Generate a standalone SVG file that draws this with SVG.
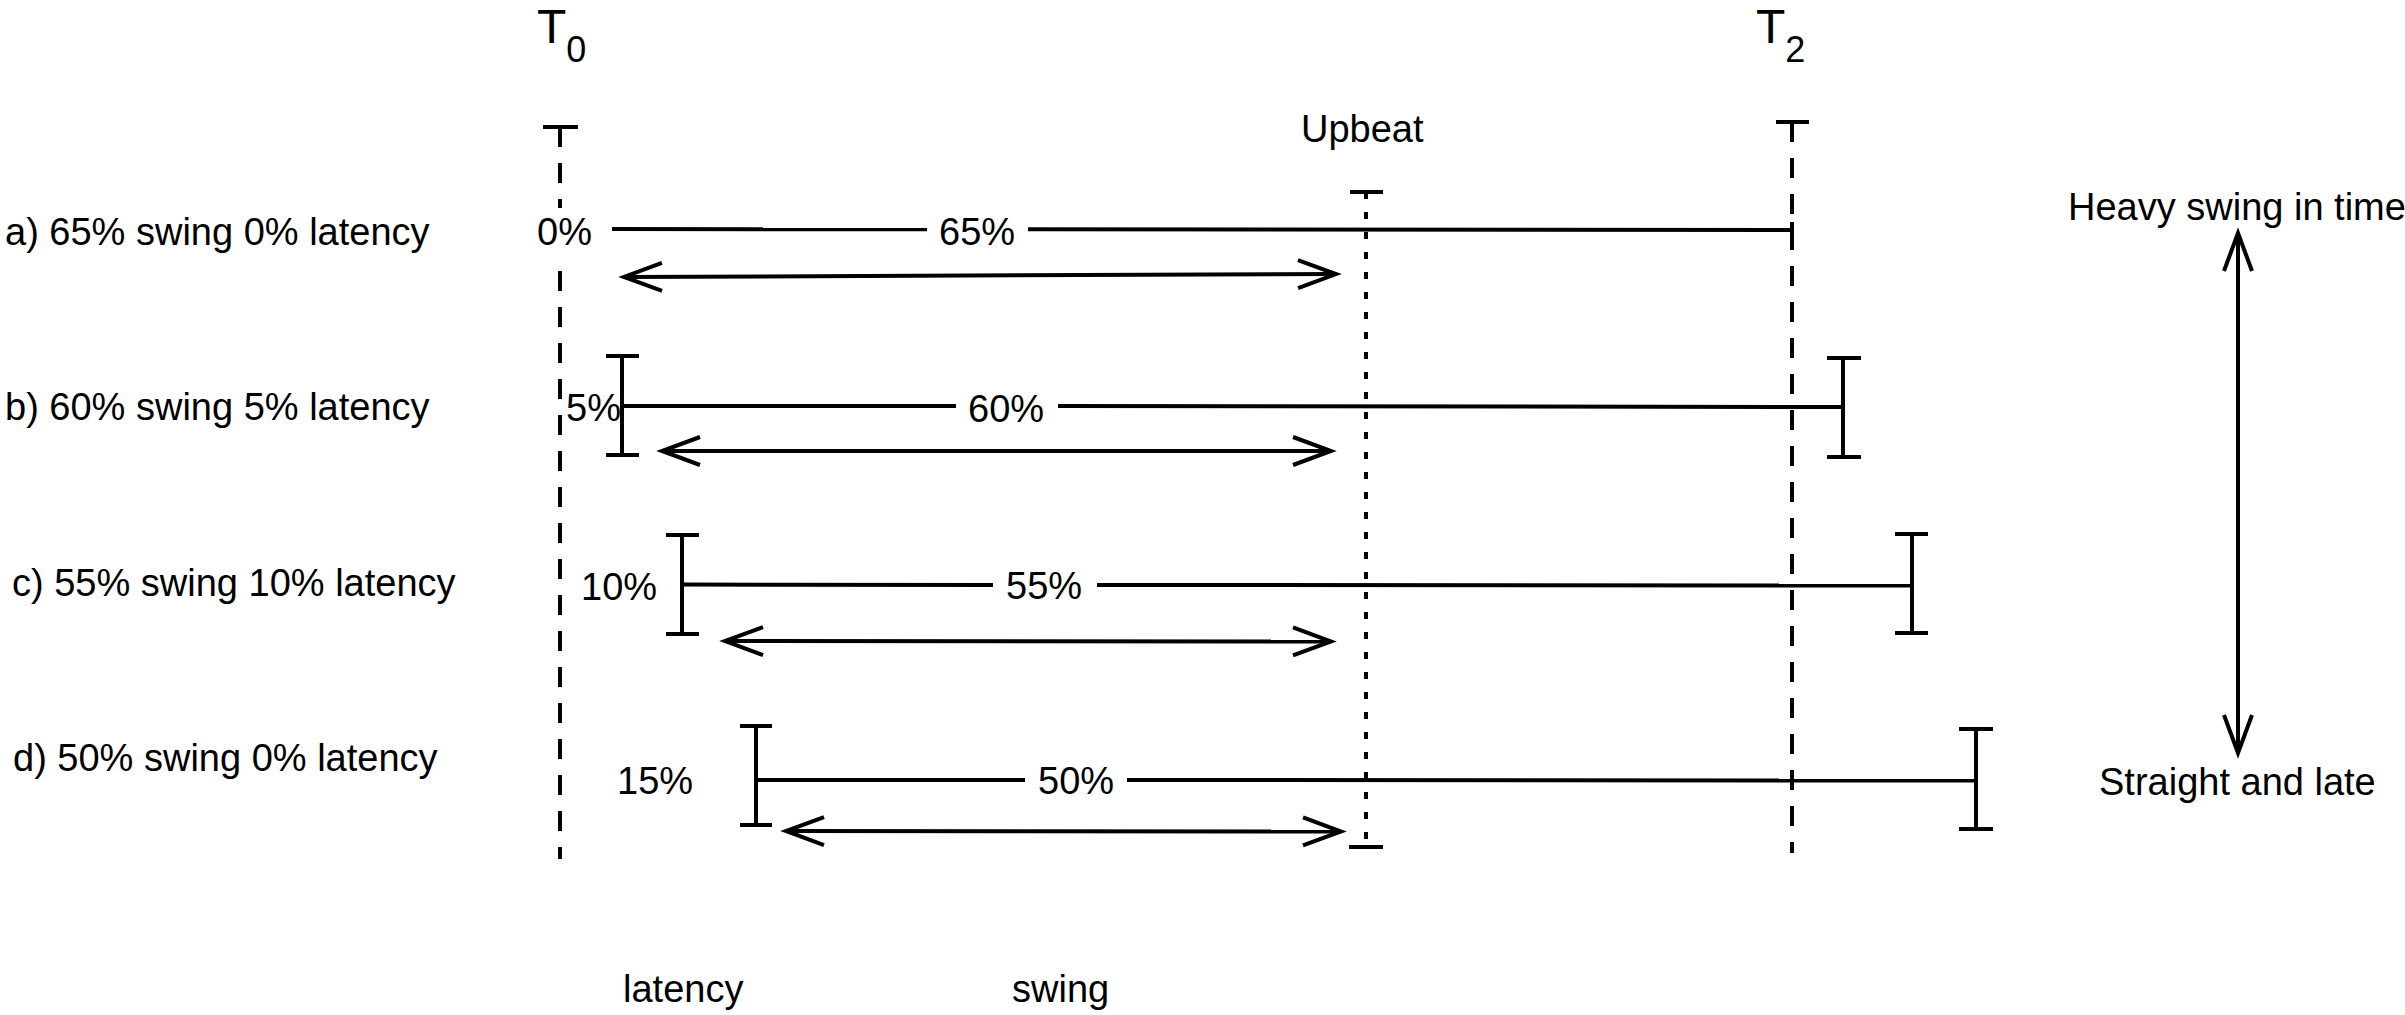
<svg xmlns="http://www.w3.org/2000/svg" width="2405" height="1015" viewBox="0 0 2405 1015">
<style>
text{font-family:"Liberation Sans",Arial,sans-serif;font-size:38px;fill:#000}
.big{font-size:48px}
.sub{font-size:36px}
.ln{stroke:#000;stroke-width:4;fill:none}
.dash{stroke:#000;stroke-width:4;fill:none;stroke-dasharray:20 16}
.dot{stroke:#000;stroke-width:4;fill:none;stroke-dasharray:7 13}
.arr{stroke:#000;stroke-width:4;fill:none;marker-start:url(#ah);marker-end:url(#ah)}
</style>
<defs>
<marker id="ah" markerUnits="userSpaceOnUse" viewBox="-44 -20 50 40" markerWidth="50" markerHeight="40" refX="0" refY="0" orient="auto-start-reverse" overflow="visible">
<path d="M-38,-14 L0,0 L-38,14" fill="none" stroke="#000" stroke-width="4" stroke-linejoin="miter"/>
</marker>
</defs>
<rect width="2405" height="1015" fill="#fff"/>

<g id="t0">
<text class="big" x="537" y="43">T<tspan class="sub" dy="19">0</tspan></text>
<line class="ln" x1="543" y1="127" x2="578" y2="127"/>
<line class="dash" x1="560" y1="127" x2="560" y2="859"/>
</g>
<g id="t2">
<text class="big" x="1756" y="43">T<tspan class="sub" dy="19">2</tspan></text>
<line class="ln" x1="1776" y1="122" x2="1809" y2="122"/>
<line class="dash" x1="1792" y1="122" x2="1792" y2="853"/>
</g>
<g id="upbeat">
<text x="1301" y="142">Upbeat</text>
<line class="ln" x1="1350" y1="192" x2="1383" y2="192"/>
<line class="dot" x1="1366" y1="192" x2="1366" y2="847"/>
<line class="ln" x1="1349" y1="847" x2="1383" y2="847"/>
</g>

<g id="row-a">
<text x="5" y="245">a) 65% swing 0% latency</text>
<rect x="534" y="208" width="62" height="48" fill="#fff"/>
<text x="537" y="245">0%</text>
<line class="ln" x1="612" y1="229" x2="927" y2="229.3"/>
<text x="939" y="245">65%</text>
<line class="ln" x1="1028" y1="229.3" x2="1792" y2="230"/>
<line class="ln" x1="1792" y1="222" x2="1792" y2="242"/>
</g>
<g id="row-b">
<text x="5" y="420">b) 60% swing 5% latency</text>
<text x="566" y="421">5%</text>
<line class="ln" x1="606" y1="356" x2="639" y2="356"/>
<line class="ln" x1="622" y1="356" x2="622" y2="455"/>
<line class="ln" x1="606" y1="455" x2="639" y2="455"/>
<line class="ln" x1="622" y1="406" x2="956" y2="406"/>
<text x="968" y="422">60%</text>
<line class="ln" x1="1058" y1="406" x2="1843" y2="407"/>
<line class="ln" x1="1827" y1="358" x2="1861" y2="358"/>
<line class="ln" x1="1843" y1="358" x2="1843" y2="457"/>
<line class="ln" x1="1827" y1="457" x2="1861" y2="457"/>
</g>
<g id="row-c">
<text x="12" y="596">c) 55% swing 10% latency</text>
<text x="581" y="600">10%</text>
<line class="ln" x1="666" y1="535" x2="699" y2="535"/>
<line class="ln" x1="682" y1="535" x2="682" y2="634"/>
<line class="ln" x1="666" y1="634" x2="699" y2="634"/>
<line class="ln" x1="682" y1="584.5" x2="993" y2="585"/>
<text x="1006" y="599">55%</text>
<line class="ln" x1="1097" y1="585" x2="1912" y2="585.5"/>
<line class="ln" x1="1895" y1="534" x2="1928" y2="534"/>
<line class="ln" x1="1912" y1="534" x2="1912" y2="633"/>
<line class="ln" x1="1895" y1="633" x2="1928" y2="633"/>
</g>
<g id="row-d">
<text x="13" y="771">d) 50% swing 0% latency</text>
<text x="617" y="794">15%</text>
<line class="ln" x1="740" y1="726" x2="772" y2="726"/>
<line class="ln" x1="756" y1="726" x2="756" y2="825"/>
<line class="ln" x1="740" y1="825" x2="772" y2="825"/>
<line class="ln" x1="756" y1="780" x2="1025" y2="780"/>
<text x="1038" y="794">50%</text>
<line class="ln" x1="1127" y1="780" x2="1976" y2="780.5"/>
<line class="ln" x1="1959" y1="729" x2="1993" y2="729"/>
<line class="ln" x1="1976" y1="729" x2="1976" y2="829"/>
<line class="ln" x1="1959" y1="829" x2="1993" y2="829"/>
</g>

<g id="scale">
<text x="2068" y="220">Heavy swing in time</text>
<text x="2099" y="795">Straight and late</text>
</g>
<g id="legend">
<text x="623" y="1002">latency</text>
<text x="1012" y="1002">swing</text>
</g>

<g id="connectors">
<line class="arr" x1="624" y1="277" x2="1336" y2="274"/>
<line class="arr" x1="662" y1="451" x2="1331" y2="451"/>
<line class="arr" x1="725" y1="641" x2="1331" y2="641.5"/>
<line class="arr" x1="786" y1="831" x2="1341" y2="831.5"/>
<line class="arr" x1="2238" y1="233" x2="2238" y2="753"/>
</g>
</svg>
